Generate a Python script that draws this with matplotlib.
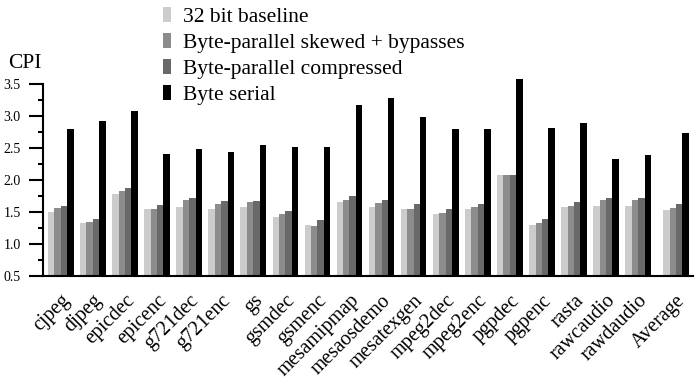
import matplotlib
matplotlib.use("Agg")
import matplotlib.pyplot as plt
import numpy as np
from matplotlib.patches import Patch

plt.rcParams['font.family'] = ['Liberation Serif', 'DejaVu Serif']

categories = ["cjpeg", "djpeg", "epicdec", "epicenc", "g721dec", "g721enc", "gs",
              "gsmdec", "gsmenc", "mesamipmap", "mesaosdemo", "mesatexgen",
              "mpeg2dec", "mpeg2enc", "pgpdec", "pgpenc", "rasta", "rawcaudio",
              "rawdaudio", "Average"]
baseline = [1.50, 1.33, 1.78, 1.54, 1.58, 1.55, 1.57, 1.42, 1.29, 1.65,
            1.58, 1.55, 1.46, 1.54, 2.07, 1.30, 1.58, 1.59, 1.59, 1.53]
skewed = [1.56, 1.34, 1.83, 1.54, 1.69, 1.63, 1.65, 1.475, 1.285, 1.68,
          1.64, 1.55, 1.48, 1.58, 2.08, 1.32, 1.59, 1.68, 1.68, 1.56]
compressed = [1.59, 1.39, 1.875, 1.60, 1.72, 1.67, 1.67, 1.51, 1.37, 1.745,
              1.68, 1.63, 1.55, 1.625, 2.08, 1.385, 1.66, 1.71, 1.71, 1.625]
serial = [2.80, 2.92, 3.08, 2.40, 2.475, 2.43, 2.55, 2.51, 2.51, 3.16,
          3.27, 2.975, 2.79, 2.80, 3.58, 2.81, 2.88, 2.32, 2.39, 2.73]
series_names = ["32 bit baseline", "Byte-parallel skewed + bypasses",
                "Byte-parallel compressed", "Byte serial"]
colors = ["#cccccc", "#8c8c8c", "#696969", "#000000"]

fig = plt.figure(figsize=(7.0, 3.81), dpi=100)
ax = fig.add_axes([43/700, 1-276/381, (693-43)/700, (276-83.7)/381])

x = np.arange(len(categories), dtype=float)
x[-1] += 0.18
w = 0.2
all_series = [baseline, skewed, compressed, serial]
for k, (vals, c) in enumerate(zip(all_series, colors)):
    ax.bar(x + (k - 1.5) * w, np.array(vals) - 0.5, width=w, bottom=0.5,
           color=c, linewidth=0, clip_on=False, zorder=2)

ax.set_xlim(-0.556, x[-1] + 0.53)
ax.set_ylim(0.5, 3.5)
ax.spines['top'].set_visible(False)
ax.spines['right'].set_visible(False)
for s in ['left', 'bottom']:
    ax.spines[s].set_linewidth(1.5)
    ax.spines[s].set_zorder(3)
ax.set_yticks([0.5, 1.0, 1.5, 2.0, 2.5, 3.0, 3.5])
ax.set_yticklabels(["0.5", "1.0", "1.5", "2.0", "2.5", "3.0", "3.5"])
ax.set_yticks(np.arange(0.75, 3.5, 0.5), minor=True)
ax.tick_params(axis='y', which='major', direction='out', length=10, width=1.5,
               labelsize=10, pad=6)
ax.tick_params(axis='y', which='minor', direction='out', length=3.5, width=1.5)
ax.set_xticks(x)
ax.set_xticklabels(categories, rotation=45, ha='right', rotation_mode='anchor',
                   fontsize=14.5)
ax.tick_params(axis='x', length=0, pad=11)

fig.text(8/700, 1-63/381, "CPI", fontsize=15.5, va='center', ha='left')

handles = [Patch(facecolor=c, edgecolor='none') for c in colors]
fig.legend(handles, series_names, loc='upper left',
           bbox_to_anchor=(163/700, 1-7/381), frameon=False, fontsize=15.5,
           handlelength=0.35, handleheight=0.7, handletextpad=0.6,
           labelspacing=0.28, borderpad=0, borderaxespad=0)

fig.savefig("out.png", dpi=100)
